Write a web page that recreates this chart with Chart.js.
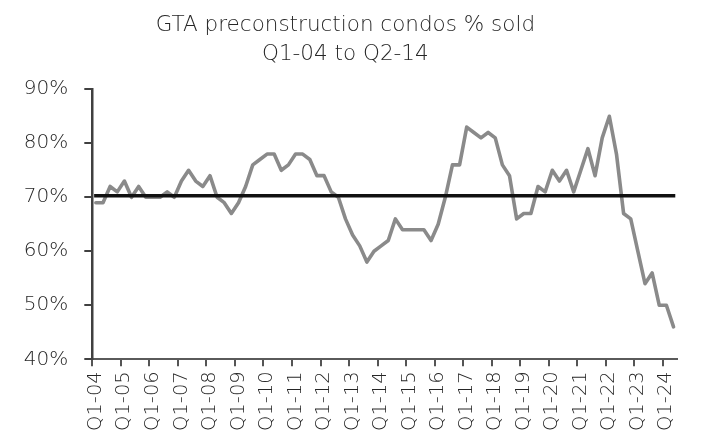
<!DOCTYPE html>
<html>
<head>
<meta charset="utf-8">
<script src="https://cdn.jsdelivr.net/npm/chart.js@4/dist/chart.umd.min.js"></script>
<style>
  html, body { margin: 0; padding: 0; background: #ffffff; }
  #wrap { width: 702px; height: 432px; position: relative; }
</style>
</head>
<body>
<div id="wrap"><canvas id="c" width="702" height="432"></canvas></div>
<script>
// Quarterly categories Q1-04 .. Q2-24
const quarters = [
  'Q1-04','Q2-04','Q3-04','Q4-04','Q1-05','Q2-05','Q3-05','Q4-05',
  'Q1-06','Q2-06','Q3-06','Q4-06','Q1-07','Q2-07','Q3-07','Q4-07',
  'Q1-08','Q2-08','Q3-08','Q4-08','Q1-09','Q2-09','Q3-09','Q4-09',
  'Q1-10','Q2-10','Q3-10','Q4-10','Q1-11','Q2-11','Q3-11','Q4-11',
  'Q1-12','Q2-12','Q3-12','Q4-12','Q1-13','Q2-13','Q3-13','Q4-13',
  'Q1-14','Q2-14','Q3-14','Q4-14','Q1-15','Q2-15','Q3-15','Q4-15',
  'Q1-16','Q2-16','Q3-16','Q4-16','Q1-17','Q2-17','Q3-17','Q4-17',
  'Q1-18','Q2-18','Q3-18','Q4-18','Q1-19','Q2-19','Q3-19','Q4-19',
  'Q1-20','Q2-20','Q3-20','Q4-20','Q1-21','Q2-21','Q3-21','Q4-21',
  'Q1-22','Q2-22','Q3-22','Q4-22','Q1-23','Q2-23','Q3-23','Q4-23',
  'Q1-24','Q2-24'
];

// % of preconstruction condos sold, per quarter
const pctSold = [
  69, 69, 72, 71, 73, 70, 72, 70, 70, 70, 71, 70, 73, 75, 73, 72,
  74, 70, 69, 67, 69, 72, 76, 77, 78, 78, 75, 76, 78, 78, 77, 74,
  74, 71, 70, 66, 63, 61, 58, 60, 61, 62, 66, 64, 64, 64, 64, 62,
  65, 70, 76, 76, 83, 82, 81, 82, 81, 76, 74, 66, 67, 67, 72, 71,
  75, 73, 75, 71, 75, 79, 74, 81, 85, 78, 67, 66, 60, 54, 56, 50,
  50, 46
];

// Average reference level (Q1-04 to Q2-14)
const averageLevel = 70.3;

// Y tick values
const yTicks = [40, 50, 60, 70, 80, 90];

const titleLines = ['GTA preconstruction condos % sold', 'Q1-04 to Q2-14'];

const FONT = "'DejaVu Sans', sans-serif";
const TEXT = '#262626';

new Chart(document.getElementById('c'), {
  type: 'line',
  data: {
    labels: quarters,
    datasets: [
      {
        label: 'Average',
        data: quarters.map(() => averageLevel),
        borderColor: '#111111',
        borderWidth: 3.5,
        borderCapStyle: 'square',
        pointRadius: 0,
        order: 0,
        tension: 0
      },
      {
        label: '% sold',
        data: pctSold,
        borderColor: '#8a8a8a',
        borderWidth: 3.6,
        borderJoinStyle: 'round',
        borderCapStyle: 'round',
        pointRadius: 0,
        order: 1,
        tension: 0
      }
    ]
  },
  options: {
    responsive: false,
    animation: false,
    devicePixelRatio: 1,
    layout: { padding: { left: 0, right: 11.3, top: 0, bottom: 0 } },
    plugins: {
      legend: { display: false },
      tooltip: { enabled: false },
      title: {
        display: true,
        text: titleLines,
        color: TEXT,
        font: { family: FONT, size: 21.5, weight: '200', lineHeight: 1.32 },
        padding: { top: 11.5, bottom: 21 }
      }
    },
    scales: {
      x: {
        type: 'category',
        offset: true,
        grid: {
          offset: true,
          drawOnChartArea: false,
          drawTicks: true,
          tickLength: 7,
          lineWidth: 2,
          color: (ctx) => (ctx.index % 4 === 0 && ctx.index < quarters.length) ? '#555555' : 'rgba(0,0,0,0)'
        },
        border: { display: true, color: '#5a5a5a', width: 2 },
        ticks: {
          autoSkip: false,
          maxRotation: 90,
          minRotation: 90,
          padding: 5,
          color: TEXT,
          font: { family: FONT, size: 19.5, weight: '200' },
          callback: function (value, index) {
            return index % 4 === 0 ? this.getLabelForValue(value) : '';
          }
        },
        afterFit: (scale) => { scale.height = 72.7; }
      },
      y: {
        min: 40,
        max: 90,
        afterBuildTicks: (scale) => { scale.ticks = yTicks.map(v => ({ value: v })); },
        grid: {
          drawOnChartArea: false,
          drawTicks: true,
          tickLength: 8,
          lineWidth: 2,
          color: '#404040'
        },
        border: { display: true, color: '#404040', width: 2.5 },
        ticks: {
          padding: 16,
          color: TEXT,
          font: { family: FONT, size: 20, weight: '200' },
          callback: (v) => v + '%'
        },
        afterFit: (scale) => { scale.width = 92.3; }
      }
    }
  }
});
</script>
</body>
</html>
